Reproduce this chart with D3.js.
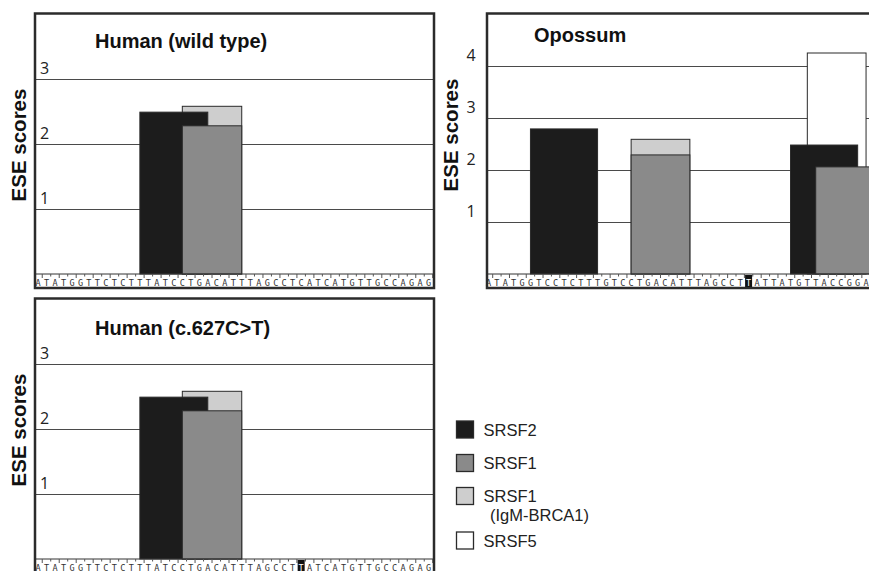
<!DOCTYPE html>
<html>
<head>
<meta charset="utf-8">
<script src="https://cdn.jsdelivr.net/npm/d3@7"></script>
<style>body{margin:0;background:#fff}</style>
</head>
<body>
<div id="chart"></div>
<script>
var width = 869;
var height = 571;

// splicing factors and their fills
var factors = ["SRSF2", "SRSF1", "SRSF1 (IgM-BRCA1)", "SRSF5"];
var fills = ["#1c1c1c", "#8a8a8a", "#cecece", "#ffffff"];

// sequences printed under each panel
var seqWild = "ATATGGTTCTCTTTATCCTGACATTTAGCCTCATCATGTTGCCAGAG";
var seqMutant = "ATATGGTTCTCTTTATCCTGACATTTAGCCTTATCATGTTGCCAGAG";
var seqOpossum = "ATATGGTCCTCTTTGTCCTGACATTTAGCCTTATTATGTTACCGGA";
var mutPos = 31;

// motif hits: factor, first nt, end nt, ESE score (drawn in this order)
var wildSites = [
  {factor: "SRSF1 (IgM-BRCA1)", start: 17, end: 24, score: 2.58},
  {factor: "SRSF2", start: 12, end: 20, score: 2.49},
  {factor: "SRSF1", start: 17, end: 24, score: 2.28}
];
var mutantSites = [
  {factor: "SRSF1 (IgM-BRCA1)", start: 17, end: 24, score: 2.58},
  {factor: "SRSF2", start: 12, end: 20, score: 2.49},
  {factor: "SRSF1", start: 17, end: 24, score: 2.28}
];
var opossumSites = [
  {factor: "SRSF2", start: 5, end: 13, score: 2.79},
  {factor: "SRSF1 (IgM-BRCA1)", start: 17, end: 24, score: 2.59},
  {factor: "SRSF1", start: 17, end: 24, score: 2.29},
  {factor: "SRSF5", start: 38, end: 45, score: 4.25},
  {factor: "SRSF2", start: 36, end: 44, score: 2.48},
  {factor: "SRSF1", start: 39, end: 46, score: 2.06}
];

var humanTicks = [1, 2, 3];
var opossumTicks = [1, 2, 3, 4];

var color = d3.scaleOrdinal().domain(factors).range(fills);

var svg = d3.select("#chart")
  .append("svg")
  .attr("width", width)
  .attr("height", height)
  .style("display", "block");

function panel(o) {
  var g = svg.append("g").attr("transform", "translate(0," + o.dy + ")");

  var x = d3.scaleLinear().domain([0, o.seq.length - 1]).range(o.xr);
  var y = d3.scaleLinear().domain([0, o.yMax]).range([274, 14]);
  var step = x(1) - x(0);

  // horizontal grid
  var grid = g.append("g")
    .attr("transform", "translate(" + o.left + ",0)")
    .call(d3.axisRight(y).tickValues(o.ticks).tickSize(o.right - o.left).tickFormat(""));
  grid.select(".domain").remove();
  grid.selectAll("line").attr("stroke", "#4a4a4a").attr("stroke-width", 1.1);

  // score labels
  g.append("g")
    .attr("font-family", "'Open Sans', sans-serif")
    .attr("font-size", 16)
    .attr("fill", "#222")
    .selectAll("text")
    .data(o.ticks)
    .join("text")
    .attr("x", o.labelX)
    .attr("y", d => y(d) - 5)
    .attr("text-anchor", o.labelAnchor)
    .text(d => d);

  // bars
  g.append("g")
    .selectAll("rect")
    .data(o.sites)
    .join("rect")
    .attr("x", d => x(d.start))
    .attr("width", d => x(d.end) - x(d.start))
    .attr("y", d => y(d.score))
    .attr("height", d => y(0) - y(d.score))
    .attr("fill", d => color(d.factor))
    .attr("stroke", "#2a2a2a")
    .attr("stroke-width", 1);

  // sequence strip
  g.append("line")
    .attr("x1", o.left).attr("x2", o.right)
    .attr("y1", 274).attr("y2", 274)
    .attr("stroke", "#333");

  var letters = o.seq.split("");
  g.append("g")
    .attr("stroke", "#555")
    .selectAll("line")
    .data(d3.range(1, letters.length + 1))
    .join("line")
    .attr("x1", d => x(d) - step / 2).attr("x2", d => x(d) - step / 2)
    .attr("y1", 274).attr("y2", d => d % 2 ? 278 : 276.5);

  if (o.mut != null) {
    g.append("rect")
      .attr("x", x(o.mut) - 3.5).attr("width", 7)
      .attr("y", 275).attr("height", 12.5)
      .attr("fill", "#111");
  }

  g.append("g")
    .attr("font-family", "'DejaVu Sans Mono', monospace")
    .attr("font-size", 8.5)
    .attr("text-anchor", "middle")
    .selectAll("text")
    .data(letters)
    .join("text")
    .attr("x", (d, i) => x(i))
    .attr("y", 285.5)
    .attr("fill", (d, i) => i === o.mut ? "#fff" : "#333")
    .text(d => d);

  // frame
  g.append("rect")
    .attr("x", o.left - 1).attr("y", 13.5)
    .attr("width", o.right - o.left + 2).attr("height", 274.5)
    .attr("fill", "none")
    .attr("stroke", "#2b2b2b")
    .attr("stroke-width", 2.5);

  g.append("text")
    .attr("x", o.titleX).attr("y", o.titleY)
    .attr("font-family", "'Liberation Sans', Arial, sans-serif")
    .attr("font-size", 20)
    .attr("font-weight", "bold")
    .attr("fill", "#111")
    .text(o.title);

  g.append("text")
    .attr("transform", "translate(" + o.axisX + "," + o.axisY + ") rotate(-90)")
    .attr("text-anchor", "middle")
    .attr("font-family", "'Liberation Sans', Arial, sans-serif")
    .attr("font-size", 20.5)
    .attr("font-weight", "bold")
    .attr("fill", "#111")
    .text("ESE scores");
}

panel({dy: 0, seq: seqWild, sites: wildSites, mut: null, xr: [38, 428.5],
  left: 36, right: 433, yMax: 4, ticks: humanTicks, labelX: 40, labelAnchor: "start",
  title: "Human (wild type)", titleX: 95, titleY: 48, axisX: 26, axisY: 145});

panel({dy: 0, seq: seqOpossum, sites: opossumSites, mut: mutPos, xr: [488.5, 488.5 + 45 * 8.39],
  left: 488, right: 900, yMax: 5, ticks: opossumTicks, labelX: 471, labelAnchor: "middle",
  title: "Opossum", titleX: 534, titleY: 42, axisX: 458, axisY: 135});

panel({dy: 285, seq: seqMutant, sites: mutantSites, mut: mutPos, xr: [38, 428.5],
  left: 36, right: 433, yMax: 4, ticks: humanTicks, labelX: 40, labelAnchor: "start",
  title: "Human (c.627C>T)", titleX: 95, titleY: 50, axisX: 26, axisY: 145});

// legend
var legendY = [421, 454.5, 487.5, 532];
var legend = svg.append("g")
  .attr("font-family", "'Liberation Sans', Arial, sans-serif")
  .attr("font-size", 16.5)
  .attr("fill", "#222");

var item = legend.selectAll("g")
  .data(factors)
  .join("g")
  .attr("transform", (d, i) => "translate(456.5," + legendY[i] + ")");

item.append("rect")
  .attr("width", 17).attr("height", 17)
  .attr("fill", d => color(d))
  .attr("stroke", "#2a2a2a")
  .attr("stroke-width", 1.3);

item.append("text")
  .attr("x", 27).attr("y", 14.5)
  .text(d => d.split(" ")[0]);

item.filter(d => d.indexOf(" ") > 0)
  .append("text")
  .attr("x", 33.5).attr("y", 33)
  .text(d => d.split(" ")[1]);
</script>
</body>
</html>
